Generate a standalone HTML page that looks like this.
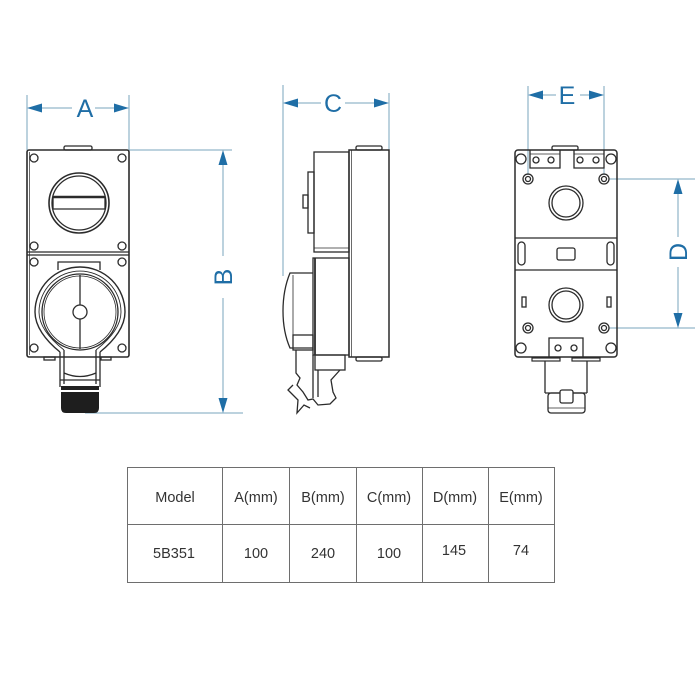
<!DOCTYPE html>
<html><head><meta charset="utf-8"><style>
html,body{margin:0;padding:0;background:#fff;}
svg{display:block;}
</style></head><body>
<svg width="700" height="700" viewBox="0 0 700 700" xmlns="http://www.w3.org/2000/svg">
<rect width="700" height="700" fill="#fff"/>
<g fill="none" stroke="#7aa6bd" stroke-width="1">
  <!-- A -->
  <line x1="27" y1="95" x2="27" y2="150"/>
  <line x1="129" y1="95" x2="129" y2="150"/>
  <line x1="40" y1="108" x2="72" y2="108"/>
  <line x1="95" y1="108" x2="116" y2="108"/>
  <!-- B -->
  <line x1="129" y1="150" x2="232" y2="150"/>
  <line x1="85" y1="413" x2="243" y2="413"/>
  <line x1="223" y1="163" x2="223" y2="256"/>
  <line x1="223" y1="298" x2="223" y2="400"/>
  <!-- C -->
  <line x1="283" y1="85" x2="283" y2="276"/>
  <line x1="389" y1="93" x2="389" y2="150"/>
  <line x1="296" y1="103" x2="321" y2="103"/>
  <line x1="345" y1="103" x2="376" y2="103"/>
  <!-- E -->
  <line x1="528" y1="86" x2="528" y2="175"/>
  <line x1="604" y1="86" x2="604" y2="175"/>
  <line x1="541" y1="95" x2="556" y2="95"/>
  <line x1="580" y1="95" x2="591" y2="95"/>
  <!-- D -->
  <line x1="609" y1="179" x2="695" y2="179"/>
  <line x1="609" y1="328" x2="695" y2="328"/>
  <line x1="678" y1="192" x2="678" y2="237"/>
  <line x1="678" y1="267" x2="678" y2="315"/>
</g>
<g fill="#1f6ea6">
  <polygon points="27,108 42,103.5 42,112.5"/>
  <polygon points="129,108 114,103.5 114,112.5"/>
  <polygon points="223,150 218.5,165 227.5,165"/>
  <polygon points="223,413 218.5,398 227.5,398"/>
  <polygon points="283,103 298,98.5 298,107.5"/>
  <polygon points="389,103 374,98.5 374,107.5"/>
  <polygon points="528,95 543,90.5 543,99.5"/>
  <polygon points="604,95 589,90.5 589,99.5"/>
  <polygon points="678,179 673.5,194 682.5,194"/>
  <polygon points="678,328 673.5,313 682.5,313"/>
</g>
<g font-family="Liberation Sans, sans-serif" font-size="25" fill="#1f6ea6" text-anchor="middle">
  <text x="85" y="117">A</text>
  <text x="333" y="112">C</text>
  <text x="567" y="104">E</text>
  <text transform="translate(232,277) rotate(-90)">B</text>
  <text transform="translate(687,252) rotate(-90)">D</text>
</g>

<!-- FRONT VIEW -->
<g fill="none" stroke="#2b2b2b" stroke-width="1.3">
  <rect x="64" y="146" width="28" height="4" rx="1.5"/>
  <rect x="27" y="150" width="102" height="207" rx="2" stroke-width="1.6"/>
  <line x1="29.5" y1="152" x2="29.5" y2="355" stroke-width="0.7"/>
  <line x1="27" y1="252" x2="129" y2="252"/>
  <line x1="27" y1="255" x2="129" y2="255"/>
  <circle cx="34" cy="158" r="4"/><circle cx="122" cy="158" r="4"/>
  <circle cx="34" cy="246" r="4"/><circle cx="122" cy="246" r="4"/>
  <circle cx="34" cy="262" r="4"/><circle cx="122" cy="262" r="4"/>
  <circle cx="34" cy="348" r="4"/><circle cx="122" cy="348" r="4"/>
  <circle cx="79" cy="203" r="30" stroke-width="1.6"/>
  <circle cx="79" cy="203" r="27"/>
  <line x1="52.5" y1="197" x2="105.5" y2="197" stroke-width="2.6"/>
  <line x1="52.5" y1="209" x2="105.5" y2="209"/>
  <line x1="53" y1="197" x2="53" y2="209"/>
  <line x1="105" y1="197" x2="105" y2="209"/>
  <!-- lower socket -->
  <path d="M58,270 L58,262 L100,262 L100,270"/>
  <path d="M60,352 C45,340 35,326 35,312 A45 45 0 0 1 125 312 C125,326 115,340 100,352" stroke-width="1.4"/>
  <path d="M64,350 C50,339 39,326 39,312 A41 41 0 0 1 121 312 C121,326 110,339 96,350" stroke-width="0.9"/>
  <circle cx="80" cy="312" r="38"/>
  <circle cx="80" cy="312" r="36" stroke-width="0.8"/>
  <line x1="80" y1="275" x2="80" y2="349"/>
  <circle cx="80" cy="312" r="7" fill="#fff"/>
  <line x1="60" y1="352" x2="60" y2="387"/>
  <line x1="100" y1="352" x2="100" y2="387"/>
  <line x1="64" y1="350" x2="64" y2="384"/>
  <line x1="96" y1="350" x2="96" y2="384"/>
  <path d="M64,373 Q80,380 96,373"/>
  <line x1="60" y1="380" x2="100" y2="380"/>
  <rect x="44" y="357" width="11" height="3"/>
  <rect x="101" y="357" width="10" height="3"/>
</g>
<rect x="61" y="386" width="38" height="4" fill="#222"/>
<path d="M61,392 L99,392 L99,408 Q99,413 94,413 L66,413 Q61,413 61,408 Z" fill="#1e1e1e"/>

<!-- SIDE VIEW -->
<g fill="none" stroke="#2b2b2b" stroke-width="1.3">
  <rect x="356" y="146" width="26" height="4" rx="1.5"/>
  <rect x="356" y="357" width="26" height="4" rx="1.5"/>
  <rect x="349" y="150" width="40" height="207" stroke-width="1.5"/>
  <line x1="351.5" y1="150" x2="351.5" y2="357" stroke-width="0.7"/>
  <rect x="314" y="152" width="35" height="100"/>
  <line x1="314" y1="248" x2="349" y2="248" stroke-width="0.8"/>
  <rect x="308" y="172" width="6" height="61"/>
  <rect x="303" y="195" width="5" height="13"/>
  <rect x="313" y="258" width="36" height="97"/>
  <line x1="315" y1="258" x2="315" y2="355" stroke-width="1.8"/>
  <path d="M313,273 L290,273 Q283,290 283,311 Q283,332 290,348 L313,348"/>
  <line x1="293" y1="275" x2="293" y2="346" stroke-width="0.8"/>
  <rect x="293" y="335" width="20" height="15"/>
  <rect x="315" y="355" width="30" height="15"/>
  <line x1="313" y1="355" x2="313" y2="398"/>
  <line x1="318" y1="370" x2="318" y2="397"/>
  <path d="M296,350 L296,373 L300,378 L297,385 L303,392 L308,400 L313,399 L318,405 L330,404 L336,398 L333,392 L331,380 L340,370"/>
  <path d="M293,385 L288,390 L292,394 L298,400 L297,413 L304,405 L310,408"/>
</g>

<!-- BACK VIEW -->
<g fill="none" stroke="#2b2b2b" stroke-width="1.3">
  <rect x="552" y="146" width="26" height="4" rx="1.5"/>
  <rect x="515" y="150" width="102" height="207" rx="3" stroke-width="1.5"/>
  <line x1="515" y1="238" x2="617" y2="238"/>
  <line x1="515" y1="270" x2="617" y2="270"/>
  <path d="M530,150 L530,168 L560,168 L560,150"/>
  <path d="M574,150 L574,168 L604,168 L604,150"/>
  <line x1="530" y1="154" x2="560" y2="154" stroke-width="0.7"/>
  <line x1="574" y1="154" x2="604" y2="154" stroke-width="0.7"/>
  <circle cx="536" cy="160" r="3"/><circle cx="551" cy="160" r="3"/>
  <circle cx="580" cy="160" r="3"/><circle cx="596" cy="160" r="3"/>
  <circle cx="521" cy="159" r="5"/><circle cx="611" cy="159" r="5"/>
  <circle cx="521" cy="348" r="5"/><circle cx="611" cy="348" r="5"/>
  <circle cx="528" cy="179" r="5"/><circle cx="528" cy="179" r="2.5"/>
  <circle cx="604" cy="179" r="5"/><circle cx="604" cy="179" r="2.5"/>
  <circle cx="528" cy="328" r="5"/><circle cx="528" cy="328" r="2.5"/>
  <circle cx="604" cy="328" r="5"/><circle cx="604" cy="328" r="2.5"/>
  <circle cx="566" cy="203" r="17"/><circle cx="566" cy="203" r="14"/>
  <circle cx="566" cy="305" r="17"/><circle cx="566" cy="305" r="14"/>
  <rect x="518" y="242" width="7" height="23" rx="3.5"/>
  <rect x="607" y="242" width="7" height="23" rx="3.5"/>
  <rect x="557" y="248" width="18" height="12" rx="2"/>
  <rect x="522" y="297" width="4" height="10"/>
  <rect x="607" y="297" width="4" height="10"/>
  <path d="M549,357 L549,338 L583,338 L583,357"/>
  <circle cx="558" cy="348" r="3"/><circle cx="574" cy="348" r="3"/>
  <rect x="532" y="358" width="28" height="3" stroke-width="1.2"/>
  <rect x="572" y="358" width="28" height="3" stroke-width="1.2"/>
  <line x1="545" y1="361" x2="545" y2="393"/>
  <line x1="587" y1="361" x2="587" y2="393"/>
  <line x1="545" y1="393" x2="587" y2="393"/>
  <rect x="548" y="393" width="37" height="20" rx="3"/>
  <line x1="548" y1="408" x2="585" y2="408" stroke-width="0.8"/>
  <rect x="560" y="390" width="13" height="13" rx="2" fill="#fff"/>
</g>

<!-- TABLE -->
<g fill="none" stroke="#6e6e6e" stroke-width="1">
  <rect x="127.5" y="467.5" width="427" height="115"/>
  <line x1="127.5" y1="524.5" x2="554.5" y2="524.5"/>
  <line x1="222.5" y1="467.5" x2="222.5" y2="582.5"/>
  <line x1="289.5" y1="467.5" x2="289.5" y2="582.5"/>
  <line x1="356.5" y1="467.5" x2="356.5" y2="582.5"/>
  <line x1="422.5" y1="467.5" x2="422.5" y2="582.5"/>
  <line x1="488.5" y1="467.5" x2="488.5" y2="582.5"/>
</g>
<g font-family="Liberation Sans, sans-serif" font-size="14.5" fill="#333" text-anchor="middle">
  <text x="175" y="502">Model</text>
  <text x="256" y="502">A(mm)</text>
  <text x="323" y="502">B(mm)</text>
  <text x="389" y="502">C(mm)</text>
  <text x="455" y="502">D(mm)</text>
  <text x="521" y="502">E(mm)</text>
  <text x="174" y="558">5B351</text>
  <text x="256" y="558">100</text>
  <text x="323" y="558">240</text>
  <text x="389" y="558">100</text>
  <text x="454" y="555">145</text>
  <text x="521" y="555">74</text>
</g>
</svg>
</body></html>
